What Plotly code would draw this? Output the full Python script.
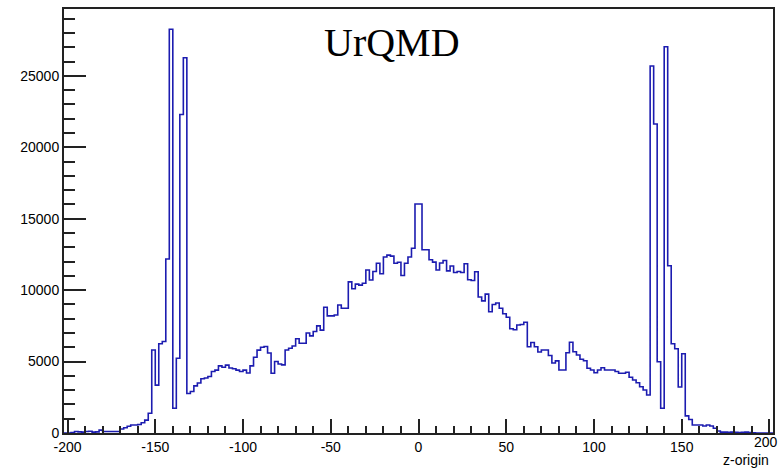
import numpy as np
import plotly.graph_objects as go

# Histogram binning along z (2-unit bins from -202 to 202)
bin_width = 2
z_min, z_max = -202, 202

# Entries per bin, left edge from -202 upward
counts = [
    0, 0, 30, 100, 80, 60, 100, 120, 60, 80,
    200, 110, 100, 100, 100, 100, 280, 370, 470, 560,
    560, 600, 720, 900, 1380, 5810, 3350, 6250, 6400, 12180,
    28260, 1730, 5230, 22300, 26270, 2760, 2900, 3300, 3500, 3800,
    3850, 3950, 4300, 4400, 4700, 4600, 4750, 4550, 4500, 4400,
    4300, 4400, 4200, 4700, 5300, 5800, 6000, 6050, 5600, 4180,
    5000, 4830, 4770, 5810, 5930, 6090, 6600, 6280, 6280, 7000,
    6800, 7100, 7500, 7200, 8800, 8200, 8200, 8260, 8960, 8730,
    8730, 10580, 10100, 10420, 10350, 10480, 11410, 10710, 11300, 11880,
    11150, 12320, 12450, 12380, 11880, 11950, 11020, 11880, 12320, 12930,
    16030, 16030, 12830, 12830, 12130, 11960, 11410, 11900, 12080, 11350,
    11690, 11230, 11300, 11230, 11850, 10730, 10680, 11290, 9520, 9250,
    9720, 8490, 9000, 9100, 8730, 8350, 8100, 7300, 7230, 7560,
    7600, 7750, 6040, 6340, 6040, 5670, 5810, 5810, 5420, 4900,
    5050, 4410, 4410, 5620, 6350, 5690, 5460, 5160, 5060, 4530,
    4410, 4220, 4410, 4570, 4410, 4410, 4410, 4300, 4180, 4180,
    4250, 3900, 3710, 3520, 3240, 3010, 2660, 25690, 21630, 4990,
    1730, 27040, 11710, 6250, 5900, 3220, 5550, 1200, 950, 560,
    560, 560, 490, 560, 490, 330, 140, 60, 60, 50,
    60, 50, 40, 50, 60, 40, 20, 0, 0, 0,
    0, 0,
]

x_ticks = [-200, -150, -100, -50, 0, 50, 100, 150, 200]
y_ticks = [0, 5000, 10000, 15000, 20000, 25000]

edges = np.arange(z_min, z_max + bin_width, bin_width)
assert len(edges) == len(counts) + 1
step_y = counts + [counts[-1]]

axis_col = "#222222"
font_family = "Liberation Sans, Arial, sans-serif"
tick_font = dict(family=font_family, size=14, color="black")

# the last x label sits at the page edge, so it is placed as an annotation
x_labels = [str(v) for v in x_ticks[:-1]] + [""]

fig = go.Figure()
fig.add_trace(go.Scatter(
    x=edges, y=step_y, mode="lines",
    line=dict(shape="hv", color="#1c1cb0", width=1.6),
    hoverinfo="skip", showlegend=False,
))

fig.update_layout(
    width=781, height=469,
    margin=dict(l=64, r=8, t=9, b=36),
    paper_bgcolor="white", plot_bgcolor="white",
    xaxis=dict(
        range=[z_min, z_max], tickvals=x_ticks, ticktext=x_labels,
        ticks="inside", ticklen=14, tickwidth=1.5, tickcolor=axis_col,
        minor=dict(dtick=10, tick0=0, ticks="inside", ticklen=7, tickwidth=1.5, tickcolor=axis_col),
        showline=True, mirror=True, linecolor=axis_col, linewidth=2,
        showgrid=False, zeroline=False, tickfont=tick_font, automargin=False,
    ),
    yaxis=dict(
        range=[0, 29680], tickvals=y_ticks, ticktext=[str(v) for v in y_ticks],
        ticks="inside", ticklen=22, tickwidth=1.5, tickcolor=axis_col,
        minor=dict(dtick=1000, tick0=0, ticks="inside", ticklen=11, tickwidth=1.5, tickcolor=axis_col),
        showline=True, mirror=True, linecolor=axis_col, linewidth=2,
        showgrid=False, zeroline=False, tickfont=tick_font, automargin=False,
    ),
    annotations=[
        dict(text=str(x_ticks[-1]), xref="paper", yref="paper", x=1.0099, y=-0.021,
             xanchor="right", yanchor="middle", showarrow=False, font=tick_font),
        dict(text="UrQMD", xref="paper", yref="paper", x=0.462, y=0.92,
             xanchor="center", yanchor="middle", showarrow=False,
             font=dict(family="Liberation Serif, Times New Roman, serif", size=40, color="black")),
        dict(text="z-origin", xref="paper", yref="paper", x=0.997, y=-0.064,
             xanchor="right", yanchor="middle", showarrow=False,
             font=dict(family=font_family, size=14, color="black")),
    ],
)

fig.write_html("out.html")
